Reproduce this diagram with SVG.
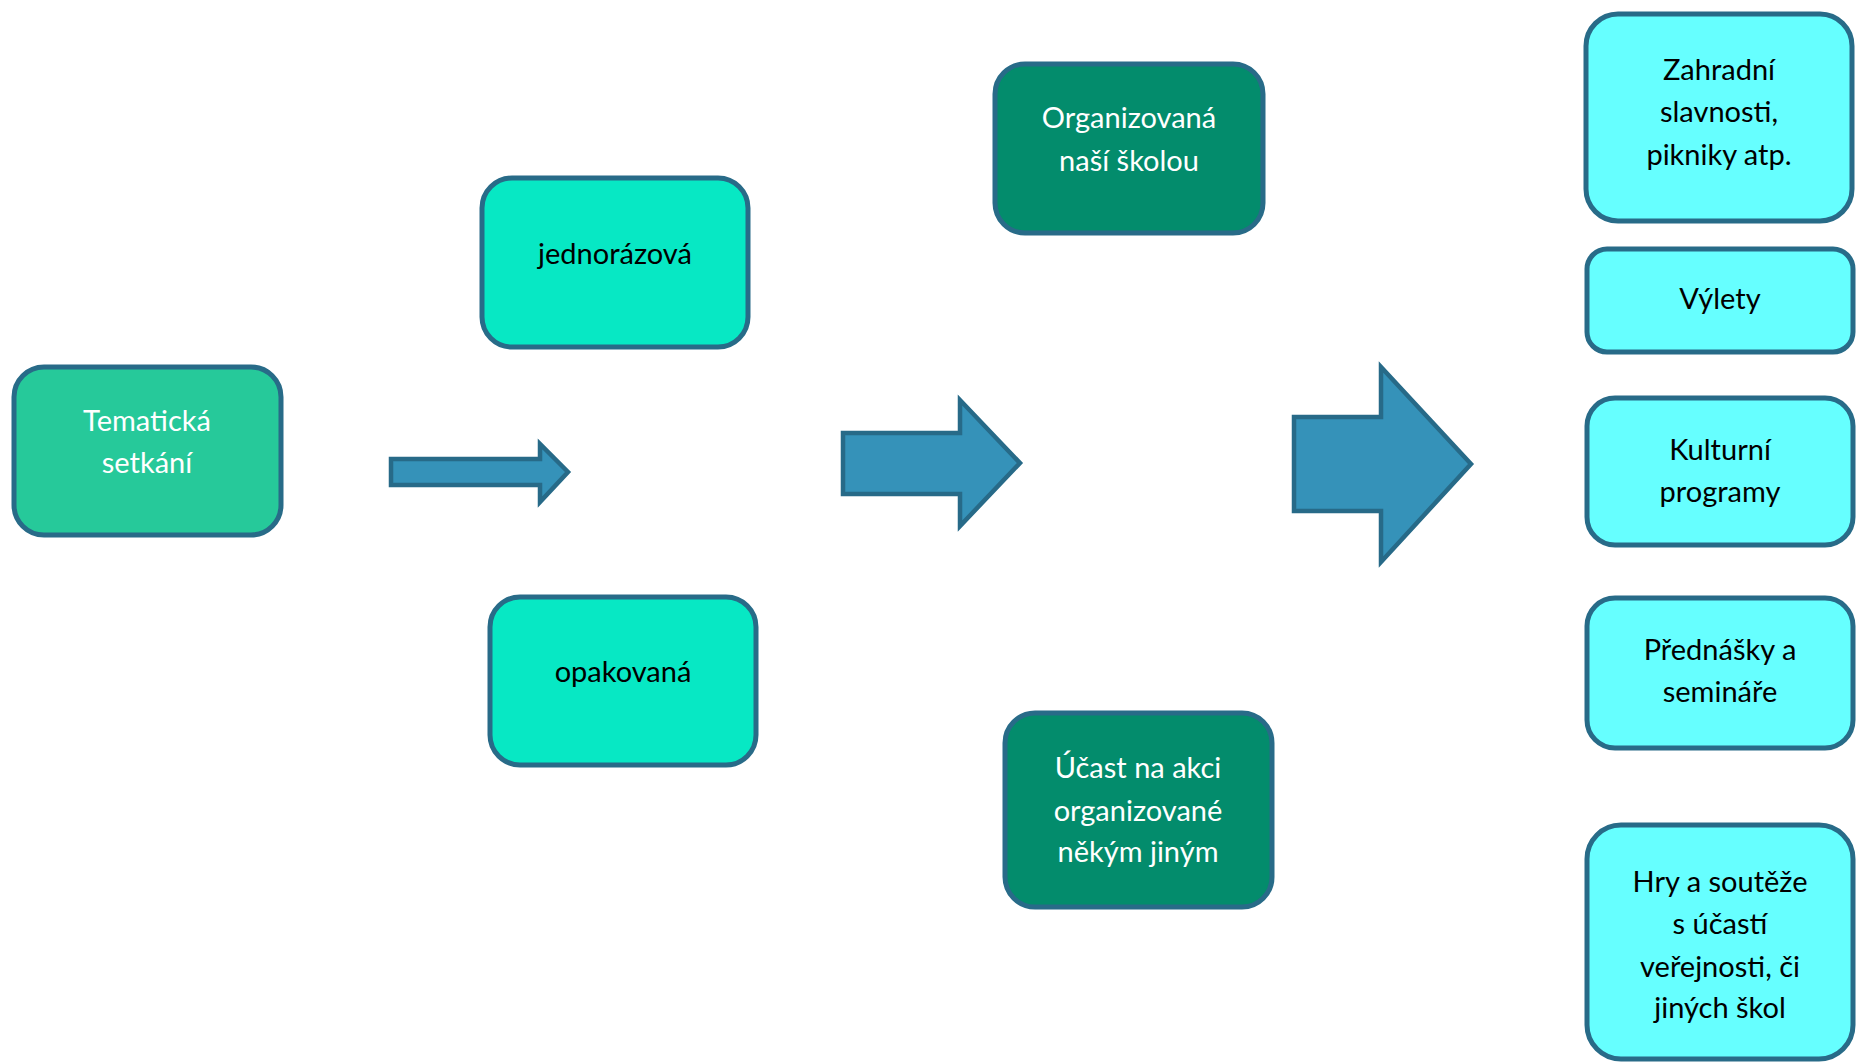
<svg xmlns="http://www.w3.org/2000/svg" width="1856" height="1062" viewBox="0 0 1856 1062">
<style>
.box{stroke:#286B88;stroke-width:5}
.a{fill:#26C99A}
.b{fill:#07E8C4}
.c{fill:#038C6C}
.d{fill:#66FFFF}
.arrow{fill:#3592B9;stroke:#276A88;stroke-width:4.5}
text{font-family:Lato,"Open Sans","Liberation Sans",sans-serif;font-size:29px;text-anchor:middle}
.w{fill:#FFFFFF}
.k{fill:#000000}
</style>
<rect width="1856" height="1062" fill="#FFFFFF"/>
<g id="connectors">
<path class="arrow" d="M391,459 H540 V444 L568,472 L540,502 V485 H391 Z"/>
<path class="arrow" d="M843,433 H960 V400 L1020,463 L960,526 V494 H843 Z"/>
<path class="arrow" d="M1294,417 H1381 V367 L1471,464 L1381,562 V511 H1294 Z"/>
</g>
<g id="tematicka">
<rect class="box a" x="14" y="367" width="267" height="168" rx="30"/>
<text class="w" x="147" y="431">Tematická</text>
<text class="w" x="147" y="473">setkání</text>
</g>
<g id="jednorazova">
<rect class="box b" x="482" y="178" width="266" height="169" rx="30"/>
<text class="k" x="615" y="264">jednorázová</text>
</g>
<g id="opakovana">
<rect class="box b" x="490" y="597" width="266" height="168" rx="30"/>
<text class="k" x="623" y="682">opakovaná</text>
</g>
<g id="organizovana">
<rect class="box c" x="995" y="64" width="268" height="169" rx="30"/>
<text class="w" x="1129" y="128">Organizovaná</text>
<text class="w" x="1129" y="171">naší školou</text>
</g>
<g id="ucast">
<rect class="box c" x="1005" y="713" width="267" height="194" rx="30"/>
<text class="w" x="1138" y="778">Účast na akci</text>
<text class="w" x="1138" y="821">organizované</text>
<text class="w" x="1138" y="862">někým jiným</text>
</g>
<g id="zahradni">
<rect class="box d" x="1586" y="14" width="266" height="207" rx="32"/>
<text class="k" x="1719" y="80">Zahradní</text>
<text class="k" x="1719" y="122">slavnosti,</text>
<text class="k" x="1719" y="165">pikniky atp.</text>
</g>
<g id="vylety">
<rect class="box d" x="1587" y="249" width="266" height="103" rx="20"/>
<text class="k" x="1720" y="309">Výlety</text>
</g>
<g id="kulturni">
<rect class="box d" x="1587" y="398" width="266" height="147" rx="28"/>
<text class="k" x="1720" y="460">Kulturní</text>
<text class="k" x="1720" y="502">programy</text>
</g>
<g id="prednasky">
<rect class="box d" x="1587" y="598" width="266" height="150" rx="28"/>
<text class="k" x="1720" y="660">Přednášky a</text>
<text class="k" x="1720" y="702">semináře</text>
</g>
<g id="hry">
<rect class="box d" x="1587" y="825" width="266" height="234" rx="34"/>
<text class="k" x="1720" y="892">Hry a soutěže</text>
<text class="k" x="1720" y="934">s účastí</text>
<text class="k" x="1720" y="977">veřejnosti, či</text>
<text class="k" x="1720" y="1018">jiných škol</text>
</g>
</svg>
